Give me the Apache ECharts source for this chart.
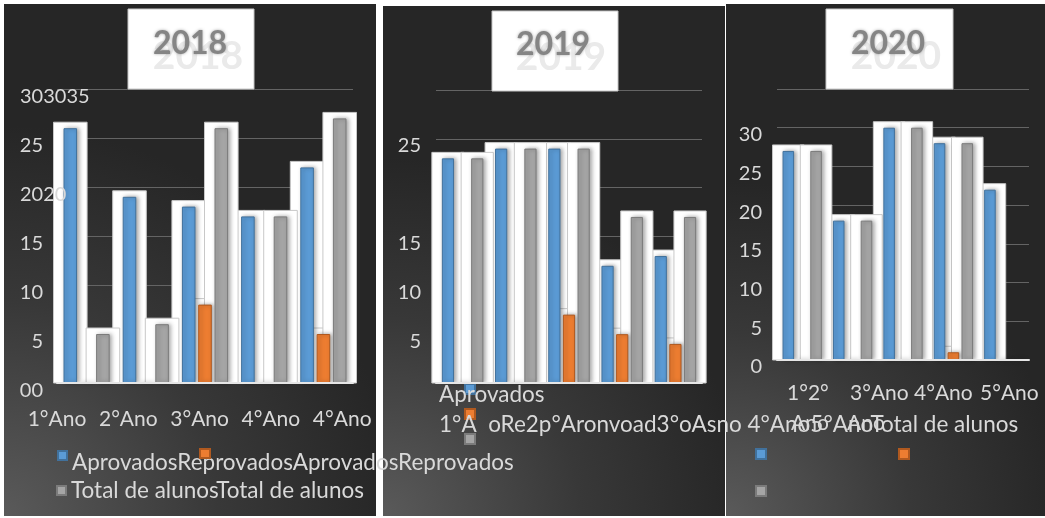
<!DOCTYPE html>
<html><head><meta charset="utf-8">
<script src="https://cdn.jsdelivr.net/npm/echarts@6/dist/echarts.min.js"></script>
<style>html,body{margin:0;padding:0;background:#fff;} #c{width:1045px;height:518px;}</style>
</head><body><div id="c"></div>
<script>
// ---- data ----
const categories = ['1°Ano','2°Ano','3°Ano','4°Ano','5°Ano'];
const years = ['2018','2019','2020'];
const seriesNames = ['Aprovados','Reprovados','Total de alunos'];
const aprovados2018 = [26,19,18,17,22];
const reprovados2018 = [0,0,8,0,5];
const total2018 = [5,6,26,17,27];
const aprovados2019 = [23,24,24,12,13];
const reprovados2019 = [0,0,7,5,4];
const total2019 = [23,24,24,17,17];
const aprovados2020 = [27,18,30,28,22];
const reprovados2020 = [0,0,0,1,0];
const total2020 = [27,18,30,28,0];
const yTicks2018 = ['00','5','10','15','2020','25','303035'];
const yTicks2019 = ['','5','10','15','','25',''];
const yTicks2020 = ['0','5','10','15','20','25','30',''];
const xLabels2018 = ['1°Ano','2°Ano','3°Ano','4°Ano','4°Ano'];
const legendText2018 = ['AprovadosReprovadosAprovadosReprovados','Total de alunosTotal de alunos'];
const labelText2019 = ['Aprovados','1°A  oRe2p°Aronvoad3°oAsno 4°Ano5°AnoTotal de alunos'];
const labelText2020 = ['1°2°','3°Ano','4°Ano','5°Ano','Ano','Ano'];

// ---- layout / style ----
const FONT = 'Lato';
const TXT = '#d9d9d9';
const colors = [
  {color:'#5b9bd5', border:'#41719c'},
  {color:'#ed7d31', border:'#b0591f'},
  {color:'#a5a5a5', border:'#7b7b7b'}
];
const panels = [
  {bg:[4,4,372,512], grid:{left:57,top:89,width:296,height:294}, max:30, ticks:yTicks2018,
   data:[aprovados2018,reprovados2018,total2018], box:[128,9,126,80], tc:[190,44]},
  {bg:[383,6,342,510], grid:{left:436,top:90,width:266,height:293}, max:30, ticks:yTicks2019,
   data:[aprovados2019,reprovados2019,total2019], box:[492,11,126,80], tc:[553,45]},
  {bg:[726,4,319,512], grid:{left:777,top:89,width:252,height:271}, max:35, ticks:yTicks2020,
   data:[aprovados2020,reprovados2020,total2020], box:[826,9,127,80], tc:[888,44]}
];
const CAT_GAP = 0.22, BAR_GAP = 0.2;

const grids = [], xAxes = [], yAxes = [], labelAxes = [], series = [], graphics = [];
panels.forEach((p, pi) => {
  grids.push(p.grid);
  xAxes.push({gridIndex:pi, type:'category', data:categories,
    axisLabel:{show:false}, axisTick:{show:false},
    axisLine:{lineStyle:{color:'#e6e6e6', width:2}}, z:4});
  yAxes.push({gridIndex:pi, type:'value', position:'left', min:0, max:p.max, interval:5,
    axisLabel:{show:false}, axisLine:{show:false}, axisTick:{show:false},
    splitLine:{lineStyle:{color:'#646464', width:1}}});
  const tok = {fontFamily:FONT, fontSize:20, color:TXT, lineHeight:20};
  const yl = {fontFamily:FONT, fontSize:20, color:TXT, lineHeight:20};
  if (pi === 0) {
    Object.assign(yl, {align:'left', margin:37, padding:[16,0,0,0],
      formatter: v => { const s = p.ticks[Math.round(v/5)] || ''; return s.length <= 2 ? '{r|' + s + '}' : '{a|' + s + '}'; },
      rich:{r:Object.assign({width:23, align:'right'}, tok), a:Object.assign({}, tok)}});
  } else {
    Object.assign(yl, {margin:15, padding:[14,0,0,0],
      formatter: v => '{a|' + (p.ticks[Math.round(v/5)] || '') + '}',
      rich:{a:Object.assign({}, tok)}});
  }
  labelAxes.push({gridIndex:pi, type:'value', position:'left', min:0, max:p.max, interval:5, z:6,
    axisLabel:yl, axisLine:{show:false}, axisTick:{show:false}, splitLine:{show:false}});
  // white glow boxes behind bars
  const boxData = [];
  p.data.forEach((arr, k) => arr.forEach((v, i) => boxData.push([i, v, k])));
  series.push({type:'custom', xAxisIndex:pi, yAxisIndex:pi, z:2, silent:true,
    encode:{x:0, y:1}, data:boxData,
    renderItem(params, api) {
      const ci = api.value(0), v = api.value(1), k = api.value(2);
      if (!v) return;
      const band = api.size([1, 0])[0];
      const remained = band * (1 - CAT_GAP);
      const bw = remained / (3 + 2 * BAR_GAP);
      const c = api.coord([ci, v]);
      const base = api.coord([ci, 0]);
      const left = c[0] - remained / 2 + k * bw * (1 + BAR_GAP);
      return {type:'rect', shape:{x:left - 10, y:c[1] - 6, width:bw + 20, height:base[1] - c[1] + 6},
        style:{fill:'#ffffff', stroke:'#c8c8c8', lineWidth:1}};
    }});
  p.data.forEach((arr, k) => {
    series.push({type:'bar', name:seriesNames[k], xAxisIndex:pi, yAxisIndex:pi, data:arr, z:3,
      barCategoryGap:(CAT_GAP*100)+'%', barGap:(BAR_GAP*100)+'%',
      itemStyle:{color:colors[k].color, borderColor:colors[k].border, borderWidth:1,
        shadowBlur:4, shadowColor:'rgba(0,0,0,0.35)', shadowOffsetX:2}});
  });
  // panel background
  const [bx, by, bw, bh] = p.bg;
  graphics.push({type:'rect', z:-10, shape:{x:bx, y:by, width:bw, height:bh},
    style:{fill:new echarts.graphic.RadialGradient(0, 1, 1.05,
      [{offset:0, color:'#5a5a5a'}, {offset:0.55, color:'#383838'}, {offset:1, color:'#262626'}])}});
  // title box
  const [tx, ty, tw, th] = p.box;
  graphics.push({type:'rect', z:5, shape:{x:tx, y:ty, width:tw, height:th},
    style:{fill:'#ffffff', stroke:'#c6c6c6', lineWidth:1}});
  graphics.push({type:'text', z:6, x:p.tc[0] + 8, y:p.tc[1] + 12,
    style:{text:years[pi], fill:'#eaeaea', fontFamily:FONT, fontWeight:'bold', fontSize:39,
      align:'center', verticalAlign:'middle'}});
  graphics.push({type:'text', z:7, x:p.tc[0], y:p.tc[1],
    style:{text:years[pi], fill:'#858585', fontFamily:FONT, fontWeight:'bold', fontSize:32,
      align:'center', verticalAlign:'middle', textShadowColor:'rgba(0,0,0,0.35)', textShadowBlur:3}});
});

// x label axis for 2018
grids.push({left:21.35, top:396, width:356.5, height:1});
xAxes.push({gridIndex:3, type:'category', data:xLabels2018, axisLine:{show:false}, axisTick:{show:false},
  axisLabel:{interval:0, margin:12, color:TXT, fontFamily:FONT, fontSize:21, lineHeight:21}});
yAxes.push({gridIndex:3, type:'value', show:false});
labelAxes.forEach(a => yAxes.push(a));

// leftover texts (2019 / 2020 category labels as they appear)
const txt = (s, x, y, fs) => ({type:'text', z:8, x, y,
  style:{text:s, fill:TXT, fontFamily:FONT, fontSize:fs, verticalAlign:'middle'}});
graphics.push(txt(labelText2019[0], 439, 395, 22.5));
graphics.push(txt(labelText2019[1], 439, 425, 22.5));
graphics.push(txt(labelText2020[0], 787, 393, 21));
graphics.push(txt(labelText2020[1], 850, 393, 21));
graphics.push(txt(labelText2020[2], 914, 393, 21));
graphics.push(txt(labelText2020[3], 980, 393, 21));
graphics.push(txt(labelText2020[4], 791, 423, 21));
graphics.push(txt(labelText2020[5], 847, 423, 21));

const lgBase = {padding:0, icon:'rect', selectedMode:false};
const lgTok = {color:TXT, fontFamily:FONT, fontSize:22.5, lineHeight:22};
const lgNone = {fontSize:8, lineHeight:8};
const legends = [
  Object.assign({data:['Aprovados'], left:57, top:437, itemWidth:9, itemHeight:9,
    formatter:() => '{t|' + legendText2018[0] + '}',
    textStyle:{color:TXT, fontFamily:FONT, fontSize:22.5, rich:{t:Object.assign({padding:[14,0,0,0]}, lgTok)}}}, lgBase),
  Object.assign({data:['Reprovados'], left:199, top:448, itemWidth:10, itemHeight:9, z:6,
    formatter:() => '', textStyle:lgNone}, lgBase),
  Object.assign({data:['Total de alunos'], left:56, top:479, itemWidth:9, itemHeight:9,
    formatter:() => legendText2018[1], textStyle:lgTok}, lgBase),
  Object.assign({data:seriesNames, orient:'vertical', left:464, top:383, itemWidth:10, itemHeight:10, itemGap:13,
    formatter:() => '', textStyle:lgNone}, lgBase),
  Object.assign({data:['Aprovados','Reprovados'], left:755, top:448, itemWidth:10, itemHeight:10, itemGap:127,
    formatter:() => '', textStyle:lgNone}, lgBase),
  Object.assign({data:['Total de alunos'], left:755, top:485, itemWidth:10, itemHeight:10,
    formatter:() => '', textStyle:lgNone}, lgBase)
];

const chart = echarts.init(document.getElementById('c'), null, {renderer:'canvas'});
chart.setOption({
  animation:false,
  backgroundColor:'#ffffff',
  textStyle:{fontFamily:FONT},
  grid:grids, xAxis:xAxes, yAxis:yAxes, series, legend:legends,
  graphic:{elements:graphics}
});
</script></body></html>
